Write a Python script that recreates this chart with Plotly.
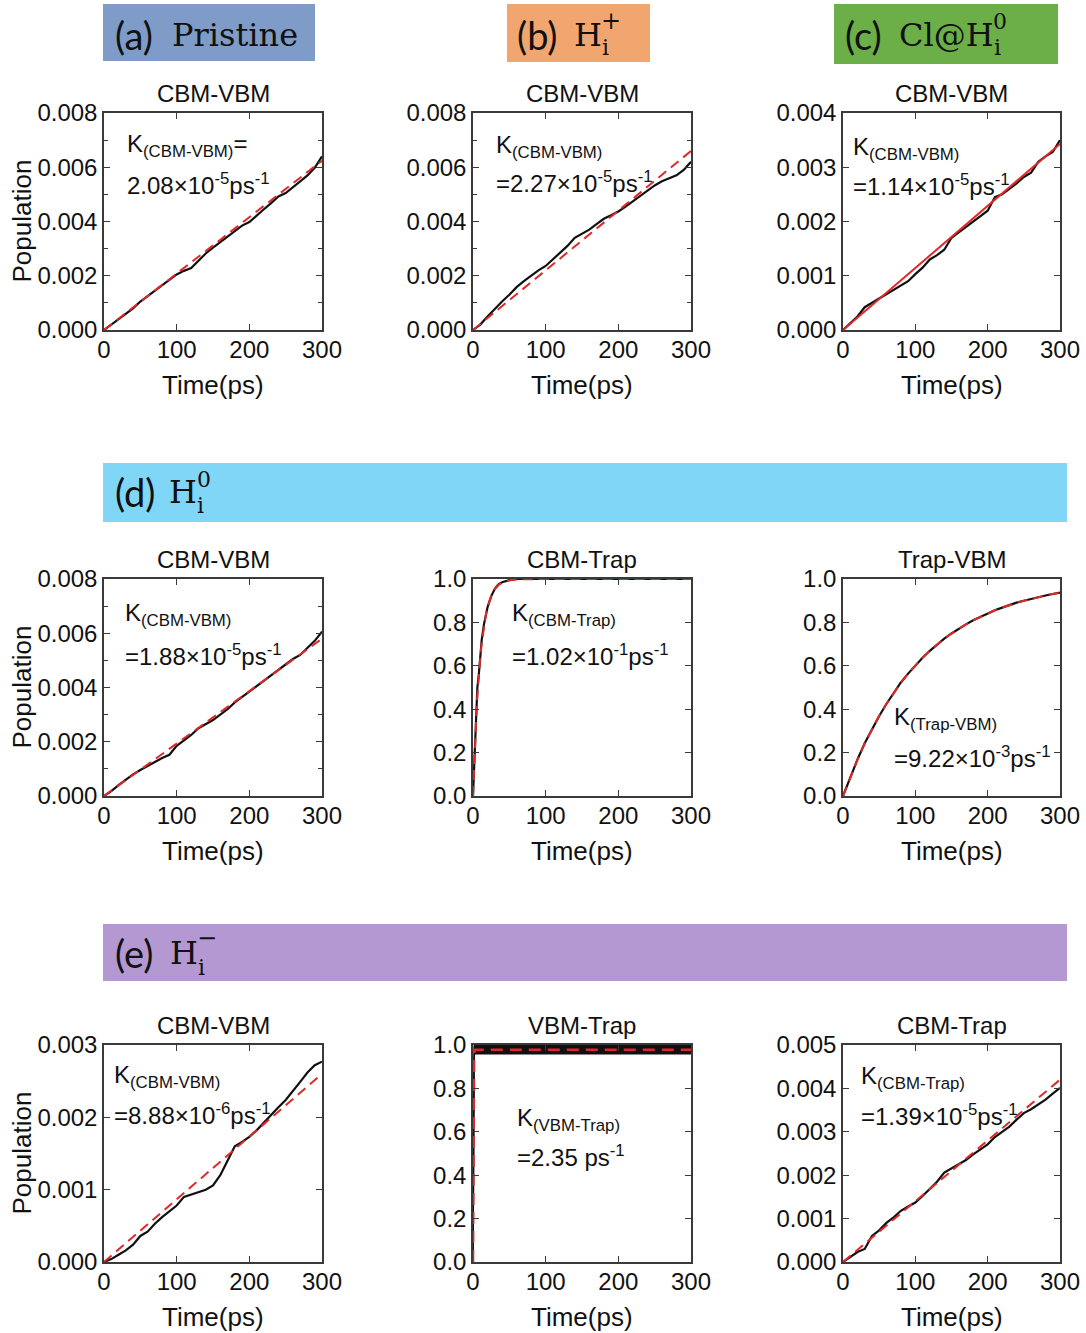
import plotly.graph_objects as go

W, H = 1086, 1333

# ---------------- data ----------------
t10 = [0, 10, 20, 30, 40, 50, 60, 70, 80, 90, 100, 110, 120, 130, 140, 150,
       160, 170, 180, 190, 200, 210, 220, 230, 240, 250, 260, 270, 280, 290, 300]
t_fit_lin = [0, 300]

a_pop = [0, 0.0002, 0.0004, 0.0006, 0.0008, 0.00105, 0.00125, 0.00143, 0.00162, 0.00183,
         0.00205, 0.00218, 0.00228, 0.00255, 0.00282, 0.00304, 0.00325, 0.00345, 0.00365,
         0.00385, 0.00398, 0.0042, 0.00445, 0.00468, 0.00492, 0.00505, 0.00525, 0.00548,
         0.0057, 0.00598, 0.0064]
a_fit = [0, 0.00624]

b_pop = [0, 0.0002, 0.0005, 0.00078, 0.00105, 0.0013, 0.00158, 0.0018, 0.002, 0.0022,
         0.00236, 0.0026, 0.00285, 0.0031, 0.0034, 0.00354, 0.0037, 0.0039, 0.0041, 0.00423,
         0.00437, 0.00455, 0.00475, 0.00495, 0.00515, 0.00533, 0.00548, 0.0056, 0.0057,
         0.0059, 0.0062]
b_fit = [0, 0.0066]

c_pop = [0, 0.00012, 0.00025, 0.00042, 0.0005, 0.00058, 0.00066, 0.00074, 0.00082, 0.0009,
         0.00103, 0.00115, 0.0013, 0.00138, 0.00148, 0.0017, 0.0018, 0.0019, 0.002, 0.0021,
         0.0022, 0.00245, 0.0025, 0.0026, 0.0027, 0.00282, 0.0029, 0.0031, 0.0032, 0.00328,
         0.0035]
c_fit = [0, 0.00343]

d1_pop = [0, 0.00018, 0.0004, 0.0006, 0.0008, 0.00096, 0.00112, 0.00125, 0.0014, 0.00152,
          0.00185, 0.00205, 0.00225, 0.0025, 0.00265, 0.0028, 0.003, 0.0032, 0.00345, 0.00365,
          0.00385, 0.00405, 0.00425, 0.00442, 0.00462, 0.00483, 0.00505, 0.0052, 0.00545,
          0.00572, 0.00606]
d1_fit = [0, 0.0058]

d2_t = [0, 1, 2, 3, 4, 5, 6, 8, 10, 12, 15, 18, 20, 25, 30, 35, 40, 50, 60, 80, 100, 150,
        200, 250, 300]
d2_pop = [0, 0.1, 0.2, 0.27, 0.33, 0.45, 0.5, 0.56, 0.64, 0.72, 0.79, 0.84, 0.87, 0.92,
          0.955, 0.975, 0.985, 0.995, 1.0, 1.0, 1.0, 1.0, 1.0, 1.0, 1.0]
d2_fit = [0, 0.097, 0.185, 0.264, 0.335, 0.40, 0.458, 0.558, 0.639, 0.706, 0.783, 0.84,
          0.87, 0.922, 0.953, 0.972, 0.983, 0.994, 0.998, 1.0, 1.0, 1.0, 1.0, 1.0, 1.0]

d3_pop = [0, 0.087, 0.168, 0.243, 0.309, 0.369, 0.424, 0.476, 0.523, 0.564, 0.601, 0.637,
          0.669, 0.698, 0.725, 0.749, 0.771, 0.791, 0.810, 0.826, 0.842, 0.856, 0.868, 0.880,
          0.891, 0.900, 0.909, 0.917, 0.924, 0.931, 0.937]
d3_fit = [0, 0.088, 0.168, 0.242, 0.308, 0.369, 0.425, 0.476, 0.522, 0.564, 0.602, 0.637,
          0.669, 0.698, 0.725, 0.749, 0.771, 0.791, 0.810, 0.826, 0.842, 0.856, 0.868, 0.880,
          0.891, 0.900, 0.909, 0.917, 0.924, 0.931, 0.937]

e1_pop = [0, 0.00004, 0.0001, 0.00016, 0.00024, 0.00036, 0.00042, 0.00053, 0.00062, 0.0007,
          0.00078, 0.0009, 0.00093, 0.00096, 0.001, 0.00106, 0.0012, 0.0014, 0.0016, 0.00166,
          0.00173, 0.00182, 0.00193, 0.00203, 0.00214, 0.00224, 0.00236, 0.00249, 0.00262,
          0.00272, 0.00277]
e1_fit = [0, 0.0026]

e2_t = [0, 0.5, 1, 1.5, 2, 300]
e2_low = [0, 0.55, 0.85, 0.93, 0.96, 0.96]
e2_high = [0, 0.7, 0.95, 0.99, 1.0, 1.0]
e2_fit_t = [0, 0.25, 0.5, 0.75, 1, 1.5, 2, 3, 300]
e2_fit = [0, 0.43, 0.67, 0.80, 0.88, 0.95, 0.97, 0.978, 0.978]

e3_pop = [0, 0.00011, 0.00023, 0.0003, 0.0006, 0.00073, 0.0009, 0.00103, 0.00118, 0.00128,
          0.00137, 0.00152, 0.00168, 0.00185, 0.00206, 0.00216, 0.00225, 0.00235, 0.00248,
          0.0026, 0.00271, 0.00288, 0.003, 0.00312, 0.00328, 0.00343, 0.00352, 0.00362,
          0.00374, 0.00388, 0.00401]
e3_fit = [0, 0.0042]

titles = ["CBM-VBM", "CBM-VBM", "CBM-VBM", "CBM-VBM", "CBM-Trap", "Trap-VBM",
          "CBM-VBM", "VBM-Trap", "CBM-Trap"]
yranges = [[0, 0.008], [0, 0.008], [0, 0.004], [0, 0.008], [0, 1], [0, 1],
           [0, 0.003], [0, 1], [0, 0.005]]
ydticks = [0.002, 0.002, 0.001, 0.002, 0.2, 0.2, 0.001, 0.2, 0.001]
yformats = [".3f", ".3f", ".3f", ".3f", ".1f", ".1f", ".3f", ".1f", ".3f"]
yminor = [0.001, 0.001, None, 0.001, None, None, None, None, None]

k_line1 = ["K<sub>(CBM-VBM)</sub>=", "K<sub>(CBM-VBM)</sub>", "K<sub>(CBM-VBM)</sub>",
           "K<sub>(CBM-VBM)</sub>", "K<sub>(CBM-Trap)</sub>", "K<sub>(Trap-VBM)</sub>",
           "K<sub>(CBM-VBM)</sub>", "K<sub>(VBM-Trap)</sub>", "K<sub>(CBM-Trap)</sub>"]
k_line2 = ["2.08×10<sup>-5</sup>ps<sup>-1</sup>", "=2.27×10<sup>-5</sup>ps<sup>-1</sup>",
           "=1.14×10<sup>-5</sup>ps<sup>-1</sup>", "=1.88×10<sup>-5</sup>ps<sup>-1</sup>",
           "=1.02×10<sup>-1</sup>ps<sup>-1</sup>", "=9.22×10<sup>-3</sup>ps<sup>-1</sup>",
           "=8.88×10<sup>-6</sup>ps<sup>-1</sup>", "=2.35 ps<sup>-1</sup>",
           "=1.39×10<sup>-5</sup>ps<sup>-1</sup>"]

# ---------------- layout geometry (pixels) ----------------
cols = [(104, 322), (473, 691), (843, 1060)]
rows = [(113, 330), (579, 796), (1045, 1262)]
k_pos = [((125, 145), (125, 184)), ((494, 146), (494, 182)), ((851, 148), (851, 185)),
         ((123, 614), (123, 655)), ((510, 614), (510, 655)), ((892, 718), (892, 757)),
         ((112, 1076), (112, 1114)), ((515, 1119), (515, 1156)), ((859, 1077), (859, 1115))]


def px(x):
    return x / W


def py(y):
    return 1 - y / H


RED = "#e0282a"
BLACK = "#111111"
AX = "#3a3a3a"
SANS = "Liberation Sans, Arial, sans-serif"

fig = go.Figure()


def ax_names(i):
    return ("x" if i == 0 else f"x{i+1}"), ("y" if i == 0 else f"y{i+1}")


series = [
    (t10, a_pop, t_fit_lin, a_fit, True),
    (t10, b_pop, t_fit_lin, b_fit, True),
    (t10, c_pop, t_fit_lin, c_fit, False),
    (t10, d1_pop, t_fit_lin, d1_fit, True),
    (d2_t, d2_pop, d2_t, d2_fit, True),
    (t10, d3_pop, t10, d3_fit, True),
    (t10, e1_pop, t_fit_lin, e1_fit, True),
    None,
    (t10, e3_pop, t_fit_lin, e3_fit, True),
]

for i in range(9):
    xa, ya = ax_names(i)
    if series[i] is not None:
        tx, ty, fx, fy, dashed = series[i]
        fig.add_trace(go.Scatter(x=tx, y=ty, mode="lines", xaxis=xa, yaxis=ya,
                                 line=dict(color=BLACK, width=2.2), showlegend=False))
        fig.add_trace(go.Scatter(x=fx, y=fy, mode="lines", xaxis=xa, yaxis=ya,
                                 line=dict(color=RED, width=2,
                                           dash="10px,6px" if dashed else "solid"),
                                 showlegend=False))
    else:
        fig.add_trace(go.Scatter(x=e2_t, y=e2_low, mode="lines", xaxis=xa, yaxis=ya,
                                 line=dict(color=BLACK, width=1.5), showlegend=False))
        fig.add_trace(go.Scatter(x=e2_t, y=e2_high, mode="lines", xaxis=xa, yaxis=ya,
                                 fill="tonexty", fillcolor=BLACK,
                                 line=dict(color=BLACK, width=1.5), showlegend=False))
        fig.add_trace(go.Scatter(x=e2_fit_t, y=e2_fit, mode="lines", xaxis=xa, yaxis=ya,
                                 line=dict(color=RED, width=2.5, dash="12px,7px"),
                                 showlegend=False))

layout = dict(width=W, height=H,
              margin=dict(l=0, r=0, t=0, b=0, pad=0, autoexpand=False),
              paper_bgcolor="white", plot_bgcolor="white", showlegend=False)

annotations = []
shapes = []

for i in range(9):
    r, c = divmod(i, 3)
    x0, x1 = cols[c]
    y0, y1 = rows[r]
    xkey = "xaxis" if i == 0 else f"xaxis{i+1}"
    ykey = "yaxis" if i == 0 else f"yaxis{i+1}"
    xa, ya = ax_names(i)
    layout[xkey] = dict(domain=[px(x0), px(x1)], anchor=ya, range=[0, 300],
                        tickvals=[0, 100, 200, 300], ticks="inside", ticklen=6,
                        tickwidth=1.2, tickcolor=AX, showline=True, linecolor=AX,
                        linewidth=1.5, mirror="allticks", showgrid=False, zeroline=False,
                        automargin=False,
                        tickfont=dict(family=SANS, size=24, color=BLACK),
                        ticklabelstandoff=-3)
    ydict = dict(domain=[py(y1), py(y0)], anchor=xa, range=yranges[i],
                 dtick=ydticks[i], tick0=0, tickformat=yformats[i], ticks="inside",
                 ticklen=6, tickwidth=1.2, tickcolor=AX, showline=True, linecolor=AX,
                 linewidth=1.5, mirror="allticks", showgrid=False, zeroline=False,
                 automargin=False,
                 tickfont=dict(family=SANS, size=24, color=BLACK), ticklabelstandoff=0)
    if yminor[i]:
        ydict["minor"] = dict(dtick=yminor[i], tick0=0, ticks="inside", ticklen=4,
                              tickwidth=1.2, tickcolor=AX, showgrid=False)
    layout[ykey] = ydict

    # subplot title
    annotations.append(dict(x=px((x0 + x1) / 2), y=py(y0 - 20), xref="paper", yref="paper",
                            text=titles[i], showarrow=False, xanchor="center",
                            yanchor="middle",
                            font=dict(family=SANS, size=24, color=BLACK)))
    # x axis title
    annotations.append(dict(x=px((x0 + x1) / 2), y=py(y1 + 55), xref="paper", yref="paper",
                            text="Time(ps)", showarrow=False, xanchor="center",
                            yanchor="middle",
                            font=dict(family=SANS, size=26, color=BLACK)))
    # K annotations
    (l1x, l1y), (l2x, l2y) = k_pos[i]
    annotations.append(dict(x=px(l1x), y=py(l1y), xref="paper", yref="paper",
                            text=k_line1[i], showarrow=False, xanchor="left",
                            yanchor="middle",
                            font=dict(family=SANS, size=24, color=BLACK)))
    annotations.append(dict(x=px(l2x), y=py(l2y), xref="paper", yref="paper",
                            text=k_line2[i], showarrow=False, xanchor="left",
                            yanchor="middle",
                            font=dict(family=SANS, size=24, color=BLACK)))

# y axis titles (first column)
for r in range(3):
    y0, y1 = rows[r]
    annotations.append(dict(x=px(21), y=py((y0 + y1) / 2), xref="paper", yref="paper",
                            text="Population", showarrow=False, textangle=-90,
                            xanchor="center", yanchor="middle",
                            font=dict(family=SANS, size=26, color=BLACK)))

# ---------------- header banners ----------------
banners = [
    (103, 4, 315, 61, "#7f9cc9"),
    (507, 4, 650, 62, "#f2a66f"),
    (834, 4, 1058, 64, "#6cae48"),
    (103, 463, 1067, 522, "#80d6f6"),
    (103, 924, 1067, 981, "#b498d1"),
]
for bx0, by0, bx1, by1, col in banners:
    shapes.append(dict(type="rect", xref="paper", yref="paper", x0=px(bx0), x1=px(bx1),
                       y0=py(by1), y1=py(by0), fillcolor=col, line=dict(width=0),
                       layer="below"))

SERIF = "DejaVu Serif, Liberation Serif, serif"
LBL = "Lato, Open Sans, sans-serif"


def txt(x, y, s, fam, size, anchor="left"):
    annotations.append(dict(x=px(x), y=py(y), xref="paper", yref="paper", text=s,
                            showarrow=False, xanchor=anchor, yanchor="middle",
                            font=dict(family=fam, size=size, color=BLACK)))


# (a)
txt(113, 35, "(a)", LBL, 38)
txt(170, 35, "Pristine", SERIF, 32)
# (b)
txt(515, 35, "(b)", LBL, 38)
txt(572, 35, "H", SERIF, 32)
txt(600, 48, "i", SERIF, 22)
txt(599, 21, "+", SERIF, 24)
# (c)
txt(843, 35, "(c)", LBL, 38)
txt(897, 35, "Cl@H", SERIF, 32)
txt(992, 48, "i", SERIF, 22)
txt(991, 22, "0", SERIF, 22)
# (d)
txt(113, 492, "(d)", LBL, 38)
txt(167, 492, "H", SERIF, 32)
txt(195, 506, "i", SERIF, 22)
txt(195, 480, "0", SERIF, 22)
# (e)
txt(113, 953, "(e)", LBL, 38)
txt(168, 953, "H", SERIF, 32)
txt(196, 967, "i", SERIF, 22)
txt(195, 938, "−", SERIF, 24)

layout["annotations"] = annotations
layout["shapes"] = shapes
fig.update_layout(**layout)

fig.write_html("out.html", config={"displayModeBar": False},
               post_script="document.body.style.margin='0px';"
                           "document.body.style.padding='0px';"
                           "document.body.style.overflow='hidden';")
